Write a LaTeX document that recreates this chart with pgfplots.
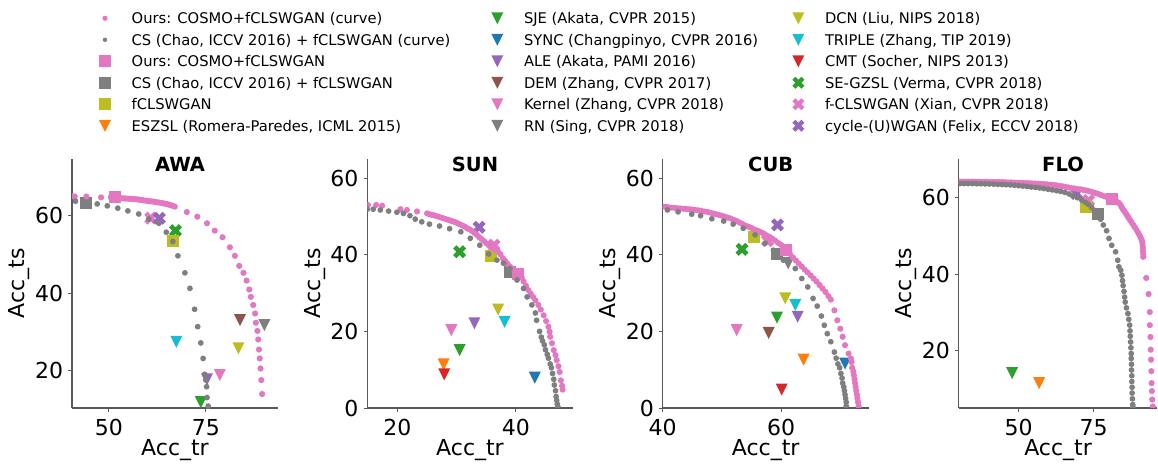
\documentclass[border=0pt]{standalone}
\usepackage{fontspec}
\setmainfont{DejaVu Sans}
\usepackage{pgfplots}
\pgfplotsset{compat=1.18}

\definecolor{cblue}{HTML}{1F77B4}
\definecolor{corange}{HTML}{FF7F0E}
\definecolor{cgreen}{HTML}{2CA02C}
\definecolor{cred}{HTML}{D62728}
\definecolor{cpurple}{HTML}{9467BD}
\definecolor{cbrown}{HTML}{8C564B}
\definecolor{cpink}{HTML}{E377C2}
\definecolor{cgray}{HTML}{7F7F7F}
\definecolor{colive}{HTML}{BCBD22}
\definecolor{ccyan}{HTML}{17BECF}

\pgfdeclareplotmark{tdown}{%
  \pgfpathmoveto{\pgfqpoint{0pt}{-\pgfplotmarksize}}%
  \pgfpathlineto{\pgfqpoint{-\pgfplotmarksize}{\pgfplotmarksize}}%
  \pgfpathlineto{\pgfqpoint{\pgfplotmarksize}{\pgfplotmarksize}}%
  \pgfpathclose\pgfusepathqfill}
\pgfdeclareplotmark{sqf}{%
  \pgfpathrectangle{\pgfqpoint{-\pgfplotmarksize}{-\pgfplotmarksize}}{\pgfqpoint{2\pgfplotmarksize}{2\pgfplotmarksize}}%
  \pgfusepathqfill}
\pgfdeclareplotmark{dotf}{%
  \pgfpathcircle{\pgfpointorigin}{\pgfplotmarksize}\pgfusepathqfill}
\pgfdeclareplotmark{Xf}{%
  \pgfpathmoveto{\pgfqpoint{-0.5\pgfplotmarksize}{-\pgfplotmarksize}}%
  \pgfpathlineto{\pgfqpoint{0pt}{-0.5\pgfplotmarksize}}%
  \pgfpathlineto{\pgfqpoint{0.5\pgfplotmarksize}{-\pgfplotmarksize}}%
  \pgfpathlineto{\pgfqpoint{\pgfplotmarksize}{-0.5\pgfplotmarksize}}%
  \pgfpathlineto{\pgfqpoint{0.5\pgfplotmarksize}{0pt}}%
  \pgfpathlineto{\pgfqpoint{\pgfplotmarksize}{0.5\pgfplotmarksize}}%
  \pgfpathlineto{\pgfqpoint{0.5\pgfplotmarksize}{\pgfplotmarksize}}%
  \pgfpathlineto{\pgfqpoint{0pt}{0.5\pgfplotmarksize}}%
  \pgfpathlineto{\pgfqpoint{-0.5\pgfplotmarksize}{\pgfplotmarksize}}%
  \pgfpathlineto{\pgfqpoint{-\pgfplotmarksize}{0.5\pgfplotmarksize}}%
  \pgfpathlineto{\pgfqpoint{-0.5\pgfplotmarksize}{0pt}}%
  \pgfpathlineto{\pgfqpoint{-\pgfplotmarksize}{-0.5\pgfplotmarksize}}%
  \pgfpathclose\pgfusepathqfill}

\pgfplotsset{
  tri/.style={only marks, mark=tdown, mark size=6bp},
  sqm/.style={only marks, mark=sqf, mark size=6bp},
  xm/.style={only marks, mark=Xf, mark size=6.5bp},
  pdot/.style={only marks, mark=dotf, mark size=3.1bp, cpink},
  gdot/.style={only marks, mark=dotf, mark size=2.9bp, cgray},
  panel/.style={
    scale only axis, height=249bp,
    axis x line*=bottom, axis y line*=left,
    axis line style={black!65, line width=1.1bp},
    tick style={black!65, line width=0.9bp},
    tick align=outside, major tick length=3.5bp,
    clip marker paths=true,
    /pgf/number format/assume math mode=true,
    tick label style={font=\fontsize{22bp}{26bp}\selectfont},
    xticklabel style={anchor=north, inner sep=0pt, yshift=-7.5bp},
    yticklabel style={anchor=east, inner sep=0pt, xshift=-5.2bp},
    every axis x label/.style={at={([yshift=-47bp]axis description cs:0.5,0)}, anchor=base,
      font=\fontsize{22bp}{26bp}\selectfont},
    every axis y label/.style={at={([xshift=-47.2bp]axis description cs:0,0.5)}, rotate=90, anchor=base,
      font=\fontsize{22bp}{26bp}\selectfont},
    every axis title/.style={at={([xshift=5bp,yshift=-12.7bp]axis description cs:0.5,1)}, anchor=base,
      font=\bfseries\fontsize{19.5bp}{22bp}\selectfont},
    xlabel={Acc\_tr}, ylabel={Acc\_ts},
  },
  legax/.style={
    hide axis, scale only axis, width=10bp, height=10bp,
    xmin=0, xmax=1, ymin=0, ymax=1, anchor=south west,
    legend cell align=left,
    legend image code/.code={\draw[##1] plot coordinates {(0bp,0bp)};},
    legend style={at={(0,0)}, anchor=north west, draw=none, fill=none, inner sep=0pt, outer sep=0pt,
      font=\fontsize{14.7bp}{17bp}\selectfont, row sep=6.1bp,
      nodes={inner sep=0pt, text height=13bp, text depth=2.4bp},
      /tikz/every odd column/.append style={column sep=20.7bp}},
  },
}

\begin{document}
\begin{tikzpicture}
\path[use as bounding box] (0,0) rectangle (1158bp,466bp);

% ---------------- Legends ----------------
\begin{axis}[legax, at={(99bp,455.4bp)}]
\addlegendimage{mark=dotf, mark size=2.6bp, cpink}
\addlegendentry{Ours: COSMO+fCLSWGAN (curve)}
\addlegendimage{mark=dotf, mark size=2.2bp, cgray}
\addlegendentry{CS (Chao, ICCV 2016) + fCLSWGAN (curve)}
\addlegendimage{mark=sqf, mark size=5.8bp, cpink}
\addlegendentry{Ours: COSMO+fCLSWGAN}
\addlegendimage{mark=sqf, mark size=5.8bp, cgray}
\addlegendentry{CS (Chao, ICCV 2016) + fCLSWGAN}
\addlegendimage{mark=sqf, mark size=5.8bp, colive}
\addlegendentry{fCLSWGAN}
\addlegendimage{mark=tdown, mark size=6bp, corange}
\addlegendentry{ESZSL (Romera-Paredes, ICML 2015)}
\end{axis}

\begin{axis}[legax, at={(491.3bp,455.4bp)}]
\addlegendimage{mark=tdown, mark size=6bp, cgreen}
\addlegendentry{SJE (Akata, CVPR 2015)}
\addlegendimage{mark=tdown, mark size=6bp, cblue}
\addlegendentry{SYNC (Changpinyo, CVPR 2016)}
\addlegendimage{mark=tdown, mark size=6bp, cpurple}
\addlegendentry{ALE (Akata, PAMI 2016)}
\addlegendimage{mark=tdown, mark size=6bp, cbrown}
\addlegendentry{DEM (Zhang, CVPR 2017)}
\addlegendimage{mark=tdown, mark size=6bp, cpink}
\addlegendentry{Kernel (Zhang, CVPR 2018)}
\addlegendimage{mark=tdown, mark size=6bp, cgray}
\addlegendentry{RN (Sing, CVPR 2018)}
\end{axis}

\begin{axis}[legax, at={(792.3bp,455.4bp)}]
\addlegendimage{mark=tdown, mark size=6bp, colive}
\addlegendentry{DCN (Liu, NIPS 2018)}
\addlegendimage{mark=tdown, mark size=6bp, ccyan}
\addlegendentry{TRIPLE (Zhang, TIP 2019)}
\addlegendimage{mark=tdown, mark size=6bp, cred}
\addlegendentry{CMT (Socher, NIPS 2013)}
\addlegendimage{mark=Xf, mark size=6bp, cgreen}
\addlegendentry{SE-GZSL (Verma, CVPR 2018)}
\addlegendimage{mark=Xf, mark size=6bp, cpink}
\addlegendentry{f-CLSWGAN (Xian, CVPR 2018)}
\addlegendimage{mark=Xf, mark size=6bp, cpurple}
\addlegendentry{cycle-(U)WGAN (Felix, ECCV 2018)}
\end{axis}

% ---------------- AWA ----------------
\begin{axis}[panel, width=206bp, at={(72bp,58bp)}, anchor=south west,
  title={AWA}, xmin=40.5, xmax=93.6, ymin=10.4, ymax=74.7,
  xtick={50,75}, ytick={20,40,60}]
\addplot[tri, cgreen] coordinates {(73.7,11.9)};
\addplot[tri, cblue] coordinates {(86.2,8.9)};
\addplot[tri, cpurple] coordinates {(75.3,17.8)};
\addplot[tri, cbrown] coordinates {(83.8,33.1)};
\addplot[tri, cpink] coordinates {(78.6,18.9)};
\addplot[tri, cgray] coordinates {(90.1,31.8)};
\addplot[tri, colive] coordinates {(83.4,25.8)};
\addplot[tri, ccyan] coordinates {(67.4,27.5)};
\addplot[xm, cgreen] coordinates {(67.2,56.2)};
\addplot[xm, cpink] coordinates {(60.8,59.4)};
\addplot[xm, cpurple] coordinates {(63.0,59.4)};
\addplot[sqm, colive] coordinates {(66.5,53.5)};
\addplot[sqm, cgray] coordinates {(44.2,63.3)};
\addplot[sqm, cpink] coordinates {(51.7,64.8)};
\addplot[pdot] coordinates {
(40.5,65.1)(41.2,65.0)(44.2,65.0)(48.0,64.8)(50.5,64.8)
(52.0,64.7)(52.5,64.65)(53.0,64.6)(53.5,64.55)(54.0,64.5)(54.5,64.5)(55.0,64.45)(55.5,64.4)
(56.0,64.4)(56.5,64.35)(57.0,64.3)(57.5,64.25)(58.0,64.15)(58.5,64.1)(59.0,64.0)(59.5,63.95)
(60.0,63.9)(60.5,63.8)(61.0,63.75)(61.5,63.7)(62.0,63.6)(62.5,63.5)(63.0,63.45)(63.5,63.35)
(64.0,63.25)(64.5,63.15)(65.0,63.05)(65.5,62.9)(66.0,62.75)(66.5,62.6)(67.0,62.4)
(70.1,61.0)(72.8,59.8)(75.3,58.1)(77.3,56.2)(79.3,54.5)(81.2,51.9)(82.5,49.7)(83.6,47.1)
(84.7,45.3)(85.5,43.3)(86.2,41.0)(86.6,39.1)(87.2,37.0)(87.7,34.8)(87.9,32.4)(88.3,30.3)
(88.5,28.1)(88.7,25.5)(88.9,23.2)(89.1,20.6)(89.3,17.6)(89.5,14.0)};
\addplot[gdot] coordinates {
(41.4,63.8)(44.2,63.3)(47.0,63.1)(49.6,62.6)(52.3,62.0)(54.9,61.3)(57.7,60.5)(60.3,59.2)
(62.9,58.1)(64.8,55.8)(66.5,53.4)(67.8,49.7)(69.6,45.3)(70.9,41.3)(72.1,35.9)(72.9,31.4)
(73.7,27.2)(74.3,23.2)(74.7,19.1)(75.0,17.6)(75.2,15.9)(75.3,13.1)(75.6,10.9)};
\end{axis}

% ---------------- SUN ----------------
\begin{axis}[panel, width=205.4bp, at={(367.3bp,58bp)}, anchor=south west,
  title={SUN}, xmin=14.9, xmax=49.6, ymin=0, ymax=65,
  xtick={20,40}, ytick={0,20,40,60}]
\addplot[tri, corange] coordinates {(27.8,11.4)};
\addplot[tri, cgreen] coordinates {(30.5,15.1)};
\addplot[tri, cblue] coordinates {(43.2,7.9)};
\addplot[tri, cpurple] coordinates {(33.0,22.1)};
\addplot[tri, cpink] coordinates {(29.1,20.3)};
\addplot[tri, colive] coordinates {(37.0,25.7)};
\addplot[tri, ccyan] coordinates {(38.1,22.5)};
\addplot[tri, cred] coordinates {(27.9,8.8)};
\addplot[xm, cgreen] coordinates {(30.5,40.8)};
\addplot[xm, cpink] coordinates {(36.3,42.5)};
\addplot[xm, cpurple] coordinates {(33.8,47.2)};
\addplot[sqm, colive] coordinates {(35.8,39.7)};
\addplot[sqm, cgray] coordinates {(39.0,35.6)};
\addplot[sqm, cpink] coordinates {(40.3,35.1)};
\addplot[pdot] coordinates {
(15.0,53.0)(16.4,53.0)(17.4,52.8)(20.5,51.9)(21.6,51.7)(23.3,51.3)
(25.0,50.8)(25.4,50.6)(25.8,50.4)(26.2,50.3)(26.6,50.1)(27.0,49.9)(27.4,49.7)(27.8,49.5)
(28.2,49.3)(28.6,49.1)(29.0,48.9)(29.4,48.7)(29.8,48.5)(30.2,48.2)(30.6,47.9)(31.0,47.6)
(31.4,47.3)(31.8,46.9)(32.2,46.6)(32.6,46.2)(33.0,45.7)(33.4,45.2)(33.8,44.6)(34.2,44.1)
(34.6,43.6)(35.0,43.0)(35.4,42.5)(35.8,42.0)(36.2,41.6)(36.6,41.2)(37.0,40.8)(37.4,40.1)
(37.8,39.1)(38.2,38.4)(38.6,37.6)(39.0,36.9)(39.4,36.4)(39.8,36.0)(40.2,35.6)(40.6,35.1)
(41.0,34.0)(41.3,33.0)(41.7,31.9)(42.1,30.8)(42.5,29.9)(42.9,29.0)(43.3,28.1)(43.8,26.9)
(44.2,25.7)(44.7,24.2)(45.1,22.7)(45.5,21.2)(45.7,19.9)(45.8,18.6)(46.1,16.9)(46.4,15.1)
(46.7,13.8)(46.9,12.5)(47.2,10.9)(47.4,9.4)(47.6,7.2)(47.8,5.8)(47.9,4.8)};
\addplot[gdot] coordinates {
(14.9,51.9)(15.9,51.9)(17.1,51.7)(18.5,51.4)(19.9,51.1)(21.0,50.8)(22.1,50.2)(23.0,49.3)
(24.1,48.6)(25.4,48.0)(27.1,47.5)(28.8,46.8)(30.7,46.0)(32.3,44.3)(33.9,42.5)(35.4,40.2)
(36.8,38.6)(37.9,37.8)(39.0,36.4)(40.2,33.4)(41.3,31.2)(41.9,29.0)(42.7,26.9)(43.3,24.8)
(43.5,22.9)(44.0,20.0)(44.3,18.5)(44.5,17.5)(44.8,16.5)(45.0,15.2)(45.3,14.0)(45.5,13.0)
(45.8,11.5)(46.0,10.5)(46.2,9.0)(46.4,7.5)(46.5,6.0)(46.7,4.5)(46.8,3.0)(46.9,2.0)
(47.0,1.0)(47.1,0.3)};
\end{axis}

% ---------------- CUB ----------------
\begin{axis}[panel, width=206bp, at={(662.7bp,58bp)}, anchor=south west,
  title={CUB}, xmin=40, xmax=74.8, ymin=0, ymax=65,
  xtick={40,60}, ytick={0,20,40,60}]
\addplot[tri, corange] coordinates {(63.8,12.6)};
\addplot[tri, cgreen] coordinates {(59.3,23.6)};
\addplot[tri, cblue] coordinates {(70.8,11.6)};
\addplot[tri, cpurple] coordinates {(62.8,23.8)};
\addplot[tri, cbrown] coordinates {(57.9,19.6)};
\addplot[tri, cpink] coordinates {(52.5,20.3)};
\addplot[tri, cgray] coordinates {(61.2,37.8)};
\addplot[tri, colive] coordinates {(60.7,28.6)};
\addplot[tri, ccyan] coordinates {(62.4,26.9)};
\addplot[tri, cred] coordinates {(60.1,4.8)};
\addplot[xm, cgreen] coordinates {(53.4,41.4)};
\addplot[xm, cpink] coordinates {(57.7,43.7)};
\addplot[xm, cpurple] coordinates {(59.4,47.8)};
\addplot[sqm, colive] coordinates {(55.5,44.7)};
\addplot[sqm, cgray] coordinates {(59.3,40.1)};
\addplot[sqm, cpink] coordinates {(60.8,41.2)};
\addplot[pdot] coordinates {
(40.0,52.6)(40.5,52.5)(41.0,52.4)(41.5,52.3)(42.0,52.25)(42.5,52.15)(43.0,52.1)(43.5,52.0)
(44.0,51.95)(44.5,51.9)(45.0,51.8)(45.5,51.7)(46.0,51.6)(46.5,51.5)(47.0,51.3)(47.5,51.2)
(48.0,51.0)(48.5,50.8)(49.0,50.6)(49.5,50.4)(50.0,50.2)(50.5,49.95)(51.0,49.7)(51.5,49.45)
(52.0,49.1)(52.5,48.8)(53.0,48.4)(53.5,48.0)(54.0,47.6)(54.5,47.3)(55.0,47.0)(55.5,46.6)
(56.0,46.3)(56.5,45.95)(57.0,45.6)(57.5,45.1)(58.0,44.7)(58.5,44.2)(59.0,43.7)(59.5,43.1)
(60.0,42.6)(60.5,42.0)(61.0,41.1)(61.5,40.2)(62.0,39.3)(62.5,38.5)(63.0,37.7)(63.5,36.9)
(64.0,36.1)(64.5,35.4)(65.0,34.6)(65.5,33.8)(66.0,33.0)(66.5,32.1)(67.0,31.2)(67.5,30.3)
(68.0,29.2)(68.4,28.3)
(69.0,25.5)(69.5,22.9)(70.0,20.7)(70.4,18.6)(70.8,16.4)(71.4,14.2)(71.8,12.9)(71.9,12.0)
(72.0,10.5)(72.2,9.5)(72.3,8.5)(72.4,7.5)(72.5,6.5)(72.6,5.5)(72.7,4.5)(72.8,3.5)
(72.9,2.5)(73.0,1.5)(73.1,0.5)};
\addplot[gdot] coordinates {
(40.8,51.7)(42.6,51.2)(44.9,50.6)(46.4,50.2)(48.3,49.4)(50.3,48.8)(51.9,48.0)(53.6,46.9)
(55.6,45.2)(57.3,43.0)(58.7,41.2)(60.4,38.6)(62.4,36.4)(63.5,33.8)(64.5,31.6)(65.4,28.6)
(66.1,26.6)(66.8,24.0)(67.3,21.6)(67.8,19.4)(68.4,17.3)(69.0,14.6)(69.3,13.0)(69.6,11.5)
(69.9,10.5)(70.1,9.0)(70.3,7.8)(70.4,6.5)(70.6,5.5)(70.7,4.5)(70.8,3.5)(70.9,2.5)
(71.0,1.5)(71.0,0.5)};
\end{axis}

% ---------------- FLO ----------------
\begin{axis}[panel, width=198.6bp, at={(958.7bp,58bp)}, anchor=south west,
  title={FLO}, xmin=30, xmax=96.2, ymin=5.1, ymax=70,
  xtick={50,75}, ytick={20,40,60}]
\addplot[tri, corange] coordinates {(56.8,11.6)};
\addplot[tri, cgreen] coordinates {(47.8,14.2)};
\addplot[xm, cpink] coordinates {(73.3,59.2)};
\addplot[xm, cpurple] coordinates {(69.2,61.0)};
\addplot[sqm, colive] coordinates {(72.4,57.4)};
\addplot[sqm, cgray] coordinates {(76.3,55.6)};
\addplot[sqm, cpink] coordinates {(81.2,59.5)};
\addplot[pdot] coordinates {
(30.5,64.1)(31.5,64.1)(32.5,64.1)(33.5,64.1)(34.5,64.1)(35.5,64.1)(36.5,64.1)(37.5,64.05)
(38.5,64.05)(39.5,64.05)(40.5,64.0)(41.5,64.0)(42.5,64.0)(43.5,64.0)(44.5,64.0)(45.5,63.95)
(46.5,63.9)(47.5,63.9)(48.5,63.85)(49.5,63.8)(50.5,63.8)(51.5,63.75)(52.5,63.7)(53.5,63.7)
(54.5,63.65)(55.5,63.6)(56.5,63.55)(57.5,63.5)(58.5,63.45)(59.5,63.4)(60.5,63.3)(61.5,63.25)
(62.5,63.15)(63.5,63.0)(64.5,62.9)(65.5,62.75)(66.5,62.6)(67.5,62.45)(68.5,62.35)(69.5,62.2)
(70.5,62.1)(71.5,61.95)(72.5,61.8)(73.5,61.6)(74.5,61.4)(75.5,61.15)(76.5,60.9)(77.5,60.6)
(78.5,60.3)(79.5,60.0)(80.5,59.7)(81.5,59.4)(82.5,59.0)(83.3,58.6)(83.8,58.2)(84.2,57.6)
(84.6,57.1)(85.0,56.6)(85.4,56.2)(85.8,55.7)(86.2,55.2)(86.6,54.7)(87.1,54.1)(87.6,53.5)
(88.2,52.8)(88.7,52.2)(89.3,51.5)(89.8,50.8)(90.2,50.2)(90.6,49.6)(91.0,48.9)(91.2,48.2)
(91.3,47.5)(91.4,46.8)(91.4,46.0)(91.5,45.2)(91.5,44.5)
(92.5,39.0)(93.3,34.8)(93.7,30.1)(93.7,26.7)(93.9,23.6)(94.0,20.3)(94.1,17.7)(94.2,14.7)
(94.3,11.6)(94.4,9.5)(94.5,7.3)(94.7,5.5)};
\addplot[gdot] coordinates {
(30.4,63.6)(31.8,63.6)(33.2,63.6)(34.6,63.6)(36.0,63.55)(37.4,63.55)(38.8,63.5)(40.2,63.5)
(41.6,63.45)(43.0,63.4)(44.4,63.35)(45.8,63.3)(47.2,63.25)(48.6,63.15)(50.0,63.05)(51.4,62.95)
(52.8,62.85)(54.2,62.7)(55.6,62.6)(57.0,62.45)(58.4,62.3)(59.8,62.1)(61.2,61.95)(62.6,61.75)
(64.0,61.55)(65.4,61.3)(66.8,60.9)(68.2,60.4)(69.6,59.9)(71.0,59.3)(72.2,58.7)(73.2,58.2)
(74.3,57.4)(75.3,56.6)(76.3,55.6)(77.3,54.3)(78.2,52.8)(79.3,51.3)(80.1,49.3)(81.0,47.5)
(82.3,45.8)(83.0,43.6)(83.4,41.9)(84.0,41.0)(84.4,39.7)(84.6,38.3)(84.8,37.0)(85.1,35.5)
(85.3,34.0)(85.5,32.7)(85.9,31.2)(86.4,29.7)(86.7,28.2)(87.0,26.7)(87.1,25.2)(87.2,23.8)
(87.3,22.3)(87.4,20.8)(87.5,19.3)(87.5,18.0)(87.6,16.5)(87.6,15.0)(87.7,13.5)(87.7,12.0)
(87.8,10.5)(87.8,9.0)(87.9,7.5)(88.0,6.0)(88.1,5.3)};
\end{axis}
\end{tikzpicture}
\end{document}
